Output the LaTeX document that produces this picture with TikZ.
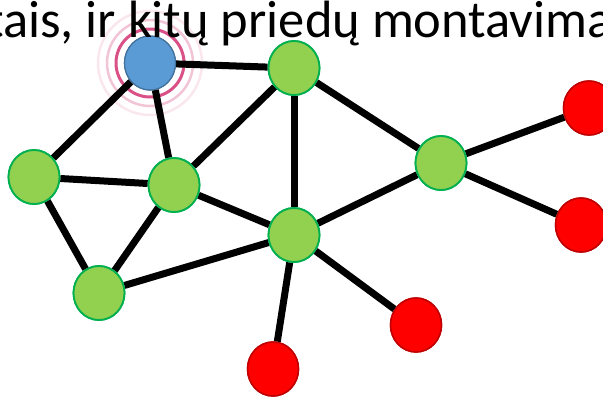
\documentclass[tikz,border=0pt]{standalone}
\usepackage{fontspec}
\setmainfont{Carlito}
\usetikzlibrary{shapes.geometric}
\definecolor{gfill}{HTML}{92D050}
\definecolor{gline}{HTML}{00B050}
\definecolor{bfill}{HTML}{5B9BD5}
\definecolor{bline}{HTML}{41719C}
\definecolor{rfill}{HTML}{FF0000}
\definecolor{rline}{HTML}{C00000}
\definecolor{ring}{HTML}{D63F7A}
\tikzset{
  vtx/.style={ellipse, minimum width=51bp, minimum height=54bp, inner sep=0pt, line width=1.8bp},
  gnode/.style={vtx, fill=gfill, draw=gline},
  bnode/.style={vtx, fill=bfill, draw=bline, line width=1.2bp},
  rnode/.style={vtx, fill=rfill, draw=rline, line width=1.5bp},
  edge/.style={line width=7bp, black},
  ringline/.style={draw=ring, line width=3bp}
}
\begin{document}
\begin{tikzpicture}[x=1bp, y=-1bp]
\useasboundingbox (0,0) rectangle (603,396);
\clip (0,0) rectangle (603,396);
\fill[white] (0,0) rectangle (603,396);
% nodes
\node[bnode] (B) at (150,63) {};
\node[gnode] (G1) at (294,68) {};
\node[gnode] (G2) at (34,177) {};
\node[gnode] (G3) at (174,185) {};
\node[gnode] (G4) at (99,293) {};
\node[gnode] (G5) at (294,235) {};
\node[gnode] (G6) at (441,163) {};
\node[rnode] (R1) at (589,108) {};
\node[rnode] (R2) at (581,225) {};
\node[rnode] (R3) at (416,325) {};
\node[rnode] (R4) at (273,369) {};
% rings
\draw[ringline, line width=2.5bp, draw opacity=0.12] (B.center) circle[radius=52];
\draw[ringline, line width=2.5bp, draw opacity=0.3] (B.center) circle[radius=43];
\draw[ringline, draw opacity=0.9] (B.center) circle[radius=34];
% edges
\draw[edge] (B) -- (G1);
\draw[edge] (B) -- (G2);
\draw[edge] (B) -- (G3);
\draw[edge] (G1) -- (G3);
\draw[edge] (G1) -- (G5);
\draw[edge] (G1) -- (G6);
\draw[edge] (G2) -- (G3);
\draw[edge] (G2) -- (G4);
\draw[edge] (G3) -- (G4);
\draw[edge] (G3) -- (G5);
\draw[edge] (G4) -- (G5);
\draw[edge] (G5) -- (G6);
\draw[edge] (G6) -- (R1);
\draw[edge] (G6) -- (R2);
\draw[edge] (G5) -- (R3);
\draw[edge] (G5) -- (R4);
% redraw nodes on top
\node[bnode] at (B.center) {};
\foreach \n in {G1,G2,G3,G4,G5,G6} { \node[gnode] at (\n.center) {}; }
\foreach \n in {R1,R2,R3,R4} { \node[rnode] at (\n.center) {}; }
% title
\node[anchor=base west, inner sep=0pt, font=\fontsize{52.5bp}{58bp}\selectfont] (title) at (-14,37) {tais, ir kitų priedų montavima};
\end{tikzpicture}
\end{document}
